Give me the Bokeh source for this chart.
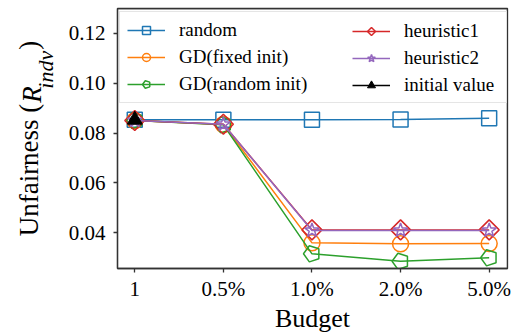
import math
from bokeh.plotting import figure
from bokeh.models import (Range1d, FixedTicker, Legend, LegendItem, PrintfTickFormatter, Span,
                          LinearAxis)
from bokeh.embed import file_html
from bokeh.resources import INLINE

# ---- data ----
budgets = ["1", "0.5%", "1.0%", "2.0%", "5.0%"]
x_idx = list(range(len(budgets)))
random_vals = [0.0853, 0.0853, 0.0853, 0.0854, 0.0859]
gd_fixed = [0.0850, 0.0834, 0.0359, 0.0355, 0.0356]
gd_random = [0.0850, 0.0833, 0.0315, 0.0285, 0.0299]
heuristic1 = [0.0850, 0.0835, 0.0411, 0.0411, 0.0411]
heuristic2 = [0.0850, 0.0835, 0.0409, 0.0409, 0.0409]
initial_x = [0]
initial_value = [0.0853]
y_ticks = [0.04, 0.06, 0.08, 0.10, 0.12]

FONT = "Liberation Serif"
BLUE, ORANGE, GREEN, RED, PURPLE = "#1f77b4", "#ff7f0e", "#2ca02c", "#d62728", "#9467bd"
SPINE = "#333333"
NB = "\u00a0"

X0, X1 = -0.195, 4.207
Y0, Y1 = 0.0256, 0.13

p = figure(width=511, height=335, output_backend="svg", toolbar_location=None,
           x_range=Range1d(X0, X1), y_range=Range1d(Y0, Y1),
           min_border_left=117, min_border_right=4, min_border_top=8, min_border_bottom=66)
p.xgrid.visible = False
p.ygrid.visible = False
p.outline_line_color = SPINE
p.outline_line_width = 1.3
p.outline_line_alpha = 1.0

xa, ya = p.xaxis[0], p.yaxis[0]
for ax in (xa, ya):
    ax.axis_line_color = SPINE
    ax.axis_line_width = 1.3
    ax.major_tick_line_color = SPINE
    ax.major_tick_line_width = 1.3
    ax.major_tick_out = 4
    ax.major_tick_in = 0
    ax.minor_tick_line_color = None
    ax.major_label_text_font = FONT
    ax.major_label_text_font_size = "21px"
    ax.major_label_text_color = "black"

xa.major_label_standoff = 4
ya.major_label_standoff = 8

xa.ticker = FixedTicker(ticks=x_idx)
xa.major_label_overrides = {i: b for i, b in zip(x_idx, budgets)}
xa.axis_label = "Budget"
xa.axis_label_text_font = FONT
xa.axis_label_text_font_size = "26px"
xa.axis_label_text_font_style = "normal"
xa.axis_label_text_color = "black"
xa.axis_label_standoff = 0

ya.ticker = FixedTicker(ticks=y_ticks)
ya.formatter = PrintfTickFormatter(format="%.2f")

# y title "Unfairness (R_indv)": subscript on the tick axis, R and the rest on label-only axes
ya.axis_label = NB * 25 + "indv"
ya.axis_label_text_font = FONT
ya.axis_label_text_font_size = "22px"
ya.axis_label_text_font_style = "italic"
ya.axis_label_text_color = "black"
ya.axis_label_standoff = 8

def title_axis(text, size, style, standoff):
    ax = LinearAxis(ticker=FixedTicker(ticks=[]), axis_line_color=None,
                    major_tick_line_color=None, minor_tick_line_color=None,
                    major_tick_out=0, major_tick_in=0, major_label_text_font_size="0px",
                    axis_label=text, axis_label_text_font=FONT,
                    axis_label_text_font_size=size, axis_label_text_font_style=style,
                    axis_label_text_color="black", axis_label_standoff=standoff)
    p.add_layout(ax, "left")

title_axis(NB * 13 + "R", "27px", "italic", -17)
title_axis("Unfairness (" + NB * 8 + ")", "27px", "normal", -30)

# top / right spines
p.add_layout(Span(location=Y1, dimension="width", line_color=SPINE, line_width=1.3))
p.add_layout(Span(location=X1, dimension="height", line_color=SPINE, line_width=1.3))

LW = 1.5

def series(xs, ys, color, marker=None, size=15, n=None, radius=8.5, angle=0.0):
    r_line = p.line(xs, ys, line_color=color, line_width=LW)
    if n is not None:
        r_mark = p.ngon(xs, ys, radius=radius, radius_units="screen", n=n, angle=angle,
                        line_color=color, line_width=LW, fill_alpha=0)
    else:
        r_mark = p.scatter(xs, ys, marker=marker, size=size,
                           line_color=color, line_width=LW, fill_alpha=0)
    return [r_line, r_mark]

r_random = series(x_idx, random_vals, BLUE, "square", size=15)
r_gdf = series(x_idx, gd_fixed, ORANGE, "circle", size=16)
r_gdr = series(x_idx, gd_random, GREEN, n=5, radius=8.5, angle=math.pi / 2)
r_h1 = series(x_idx, heuristic1, RED, n=4, radius=10, angle=0.0)
r_h2 = series(x_idx, heuristic2, PURPLE, "star", size=15)
r_init_line = p.line(initial_x, initial_value, line_color="black", line_width=LW)
r_init = p.scatter(initial_x, initial_value, marker="triangle", size=15,
                   line_color="black", fill_color="black")

leg_common = dict(label_text_font=FONT, label_text_font_size="19px", label_text_color="black",
                  glyph_width=38, glyph_height=20, label_height=20, label_standoff=14,
                  spacing=5, padding=7, margin=0)

leg_a = Legend(items=[LegendItem(label="random", renderers=r_random),
                      LegendItem(label="GD(fixed init)", renderers=r_gdf),
                      LegendItem(label="GD(random init)", renderers=r_gdr)],
               location=(2, 165), label_width=320,
               border_line_color="#cccccc", border_line_width=1,
               background_fill_color="white", background_fill_alpha=0.85, **leg_common)
leg_b = Legend(items=[LegendItem(label="heuristic1", renderers=r_h1),
                      LegendItem(label="heuristic2", renderers=r_h2),
                      LegendItem(label="initial value", renderers=[r_init_line, r_init])],
               location=(228, 165), border_line_alpha=0, background_fill_alpha=0,
               **leg_common)
p.add_layout(leg_a)
p.add_layout(leg_b)

open("out.html", "w").write(file_html(p, INLINE))
